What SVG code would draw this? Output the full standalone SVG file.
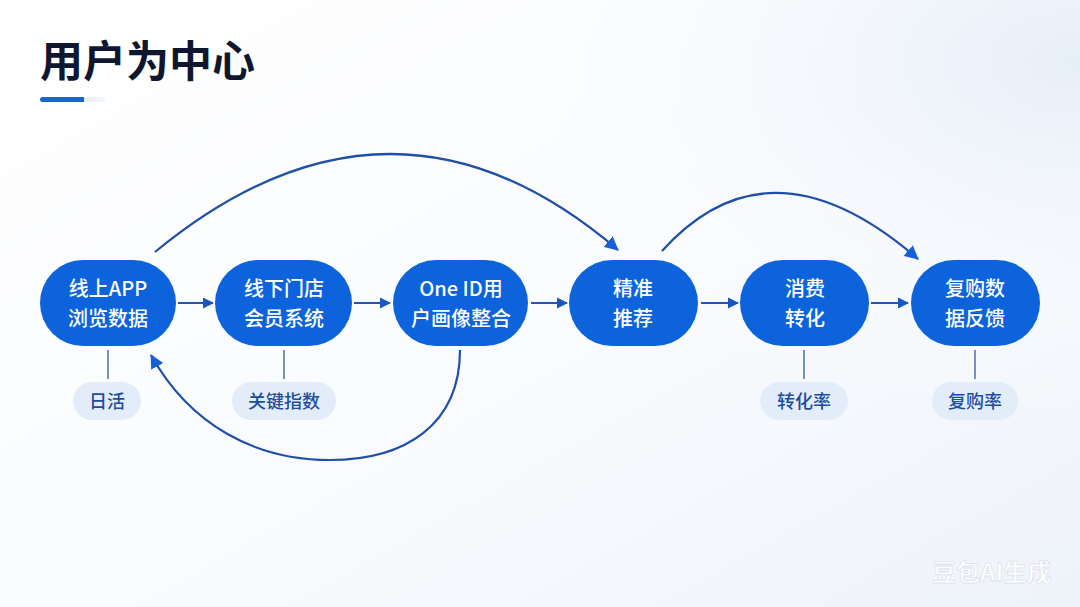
<svg xmlns="http://www.w3.org/2000/svg" width="1080" height="607" viewBox="0 0 1080 607">
  <defs>
    <linearGradient id="bg" x1="0" y1="0" x2="1" y2="1">
      <stop offset="0" stop-color="#ffffff"/>
      <stop offset="0.55" stop-color="#f9fbfe"/>
      <stop offset="1" stop-color="#eef3f9"/>
    </linearGradient>
    <radialGradient id="glow" cx="1" cy="0.1" r="0.6">
      <stop offset="0" stop-color="#e6eef8"/>
      <stop offset="1" stop-color="#ffffff" stop-opacity="0"/>
    </radialGradient>
    <linearGradient id="bar" x1="0" y1="0" x2="1" y2="0">
      <stop offset="0" stop-color="#1a63d6"/>
      <stop offset="0.66" stop-color="#1a63d6"/>
      <stop offset="0.67" stop-color="#e6ecf3"/>
      <stop offset="1" stop-color="#f6f8fb"/>
    </linearGradient>
    <marker id="ah" markerUnits="userSpaceOnUse" markerWidth="16" markerHeight="14" refX="13" refY="7" orient="auto">
      <path d="M0,0 L14,7 L0,14 Z" fill="#1560d6"/>
    </marker>
    <marker id="ahs" markerUnits="userSpaceOnUse" markerWidth="12" markerHeight="12" refX="10" refY="6" orient="auto">
      <path d="M0,0.5 L11,6 L0,11.5 Z" fill="#1a56c2"/>
    </marker>
    <style>
      .node rect { fill: #0c63dc; }
      .node text { font-family: "Noto Sans CJK SC", "Noto Sans", sans-serif; font-size: 20px; font-weight: 500; fill: #ffffff; text-anchor: middle; }
      .tag rect { fill: #e3edf9; }
      .tag text { font-family: "Noto Sans CJK SC", "Noto Sans", sans-serif; font-size: 18px; font-weight: 500; fill: #1d4d9e; text-anchor: middle; }
      .stem { stroke: #4a6ea8; stroke-width: 1.5; }
      .arc { fill: none; stroke: #1f4fa6; stroke-width: 2.2; marker-end: url(#ah); }
      .straight { stroke: #1f56bd; stroke-width: 2.2; marker-end: url(#ahs); }
    </style>
  </defs>
  <rect width="1080" height="607" fill="url(#bg)"/>
  <rect width="1080" height="607" fill="url(#glow)"/>

  <g id="title">
    <text x="40" y="77" font-family="Noto Sans CJK SC, Noto Sans, sans-serif" font-size="43" font-weight="700" fill="#0f1730">用户为中心</text>
    <rect x="40" y="97" width="66" height="5" rx="2.5" fill="url(#bar)"/>
  </g>

  <g id="connectors">
    <line class="straight" x1="178" y1="303" x2="213" y2="303"/>
    <line class="straight" x1="354" y1="303" x2="390" y2="303"/>
    <line class="straight" x1="531" y1="303" x2="567" y2="303"/>
    <line class="straight" x1="701" y1="303" x2="738" y2="303"/>
    <line class="straight" x1="871" y1="303" x2="908" y2="303"/>
    <path class="arc" d="M155,252 Q392,57 618,250"/>
    <path class="arc" d="M662,251 Q770,131 918,259"/>
    <path class="arc" d="M460,350 C460,425 405,460 330,460 C255,460 190,425 151,355"/>
    <line class="stem" x1="108" y1="350" x2="108" y2="379"/>
    <line class="stem" x1="284" y1="350" x2="284" y2="379"/>
    <line class="stem" x1="804" y1="350" x2="804" y2="379"/>
    <line class="stem" x1="975" y1="350" x2="975" y2="379"/>
  </g>

  <g id="n1" class="node">
    <rect x="40" y="260" width="136" height="86" rx="43"/>
    <text x="108" y="296">线上APP</text>
    <text x="108" y="326">浏览数据</text>
  </g>
  <g id="n2" class="node">
    <rect x="215" y="260" width="137" height="86" rx="43"/>
    <text x="284" y="296">线下门店</text>
    <text x="284" y="326">会员系统</text>
  </g>
  <g id="n3" class="node">
    <rect x="393" y="260" width="135" height="86" rx="43"/>
    <text x="461" y="296">One ID用</text>
    <text x="461" y="326">户画像整合</text>
  </g>
  <g id="n4" class="node">
    <rect x="569" y="260" width="129" height="86" rx="43"/>
    <text x="633" y="296">精准</text>
    <text x="633" y="326">推荐</text>
  </g>
  <g id="n5" class="node">
    <rect x="740" y="260" width="129" height="86" rx="43"/>
    <text x="805" y="296">消费</text>
    <text x="805" y="326">转化</text>
  </g>
  <g id="n6" class="node">
    <rect x="911" y="260" width="129" height="86" rx="43"/>
    <text x="975" y="296">复购数</text>
    <text x="975" y="326">据反馈</text>
  </g>

  <g id="t1" class="tag">
    <rect x="73" y="382" width="68" height="38" rx="19"/>
    <text x="107" y="408">日活</text>
  </g>
  <g id="t2" class="tag">
    <rect x="232" y="382" width="104" height="38" rx="19"/>
    <text x="284" y="408">关键指数</text>
  </g>
  <g id="t3" class="tag">
    <rect x="760" y="382" width="88" height="38" rx="19"/>
    <text x="804" y="408">转化率</text>
  </g>
  <g id="t4" class="tag">
    <rect x="932" y="382" width="86" height="38" rx="19"/>
    <text x="975" y="408">复购率</text>
  </g>

  <text x="932" y="581" font-family="Noto Sans CJK SC, Noto Sans, sans-serif" font-size="24" font-weight="700" fill="#ffffff" stroke="#dfe4eb" stroke-width="0.8">豆包AI生成</text>
</svg>
